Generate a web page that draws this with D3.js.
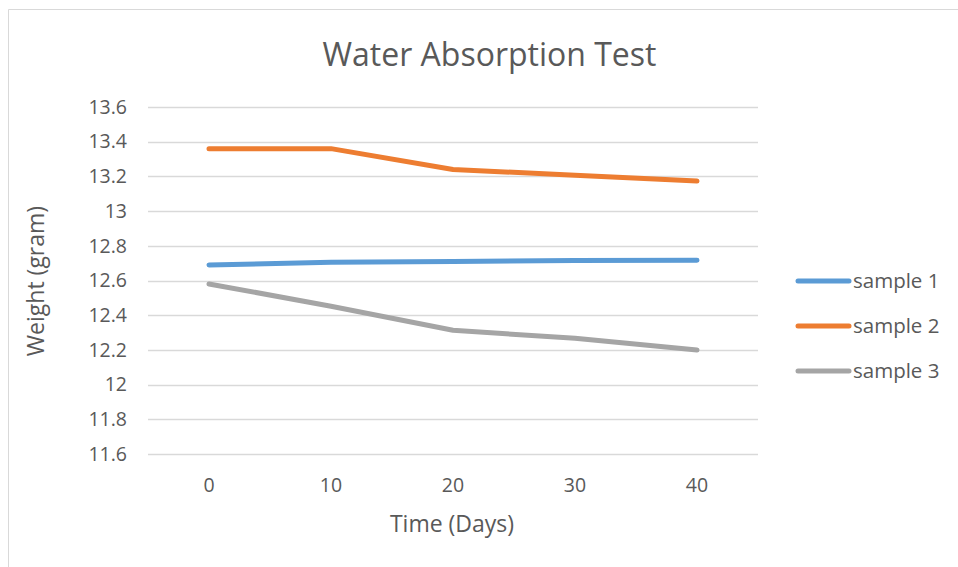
<!DOCTYPE html>
<html><head><meta charset="utf-8">
<script src="https://cdn.jsdelivr.net/npm/d3@7"></script>
<style>body{margin:0;background:#fff;}svg{display:block;font-family:"Open Sans",sans-serif;}</style>
</head><body>
<svg id="c" width="958" height="567"></svg>
<script>
const days = ["0","10","20","30","40"];
const sample1 = [12.69, 12.705, 12.71, 12.715, 12.717];
const sample2 = [13.36, 13.36, 13.24, 13.206, 13.173];
const sample3 = [12.58, 12.452, 12.313, 12.267, 12.2];
const seriesNames = ["sample 1","sample 2","sample 3"];
const colors = ["#5B9BD5","#ED7D31","#A5A5A5"];
const yTicks = [11.6,11.8,12,12.2,12.4,12.6,12.8,13,13.2,13.4,13.6];

const svg = d3.select("#c");
const txt = "#595959";
// chart frame
svg.append("path").attr("d","M8.5,567V9.5H958").attr("fill","none").attr("stroke","#d9d9d9").attr("stroke-width",1);

const x = d3.scaleBand().domain(days).range([148,758]);
const y = d3.scaleLinear().domain([11.6,13.6]).range([454,107]);

// gridlines
svg.append("g").selectAll("line").data(yTicks).join("line")
  .attr("x1",148).attr("x2",758)
  .attr("y1",d=>Math.round(y(d))+0.5).attr("y2",d=>Math.round(y(d))+0.5)
  .attr("stroke","#d9d9d9").attr("stroke-width",1.5);

// y axis
const ya = svg.append("g").attr("transform","translate(148,0)")
  .call(d3.axisLeft(y).tickValues(yTicks).tickSize(0).tickPadding(21).tickFormat(d=>String(+d.toFixed(1))));
ya.select(".domain").remove();
ya.selectAll("text").attr("fill",txt).style("font-size","19.5px").style("font-family","'Open Sans',sans-serif");

// x axis
const xa = svg.append("g").attr("transform","translate(0,454)")
  .call(d3.axisBottom(x).tickSize(0).tickPadding(24));
xa.select(".domain").remove();
xa.selectAll("text").attr("fill",txt).style("font-size","19.5px").style("font-family","'Open Sans',sans-serif");

// lines
const data = [sample1, sample2, sample3];
const line = d3.line().x((d,i)=>x(days[i])+x.bandwidth()/2).y(d=>y(d));
svg.append("g").selectAll("path").data(data).join("path")
  .attr("d",line).attr("fill","none")
  .attr("stroke",(d,i)=>colors[i]).attr("stroke-width",5)
  .attr("stroke-linecap","round").attr("stroke-linejoin","round");

// title
svg.append("text").attr("x",489.5).attr("y",66).attr("text-anchor","middle")
  .attr("fill",txt).style("font-size","32px").text("Water Absorption Test");
// axis titles
svg.append("text").attr("x",452).attr("y",532).attr("text-anchor","middle")
  .attr("fill",txt).style("font-size","23px").text("Time (Days)");
svg.append("text").attr("transform","translate(44,281) rotate(-90)").attr("text-anchor","middle")
  .attr("fill",txt).style("font-size","23px").text("Weight (gram)");

// legend
const lg = svg.append("g").selectAll("g").data(seriesNames).join("g")
  .attr("transform",(d,i)=>`translate(0,${281+i*45})`);
lg.append("line").attr("x1",798).attr("x2",849).attr("y1",0).attr("y2",0)
  .attr("stroke",(d,i)=>colors[i]).attr("stroke-width",5).attr("stroke-linecap","round");
lg.append("text").attr("x",853).attr("y",7).attr("fill",txt).style("font-size","20.5px").text(d=>d);
</script>
</body></html>
